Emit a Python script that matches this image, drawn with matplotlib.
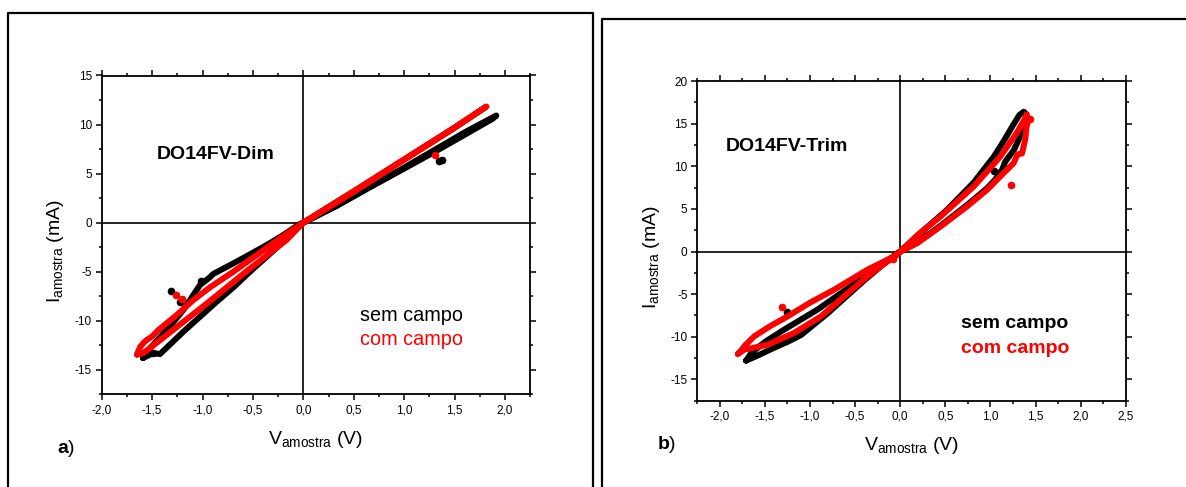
import matplotlib
matplotlib.use('Agg')
import matplotlib.pyplot as plt
from matplotlib.ticker import MultipleLocator, FuncFormatter
from matplotlib.lines import Line2D

plt.rcParams['font.family'] = ['Liberation Sans', 'DejaVu Sans']
plt.rcParams['mathtext.fontset'] = 'custom'
plt.rcParams['mathtext.rm'] = 'Liberation Sans'
plt.rcParams['mathtext.bf'] = 'Liberation Sans:bold'
plt.rcParams['mathtext.it'] = 'Liberation Sans:italic'

# ---- panel a : DO14FV-Dim ----
dim_sem_v = [-1.59, -1.55, -1.45, -1.355, -1.19, -1.025, -0.93, -0.893, -0.694, -0.529,
             -0.363, -0.198, -0.033, 0.0, 0.33, 0.66, 0.99, 1.3, 1.6, 1.8, 1.915, 1.88,
             1.6, 1.3, 0.99, 0.66, 0.33, 0.0, -0.066, -0.198, -0.363, -0.529, -0.694,
             -0.859, -1.025, -1.19, -1.422, -1.49, -1.59]
dim_sem_i = [-13.8, -13.16, -12.0, -10.95, -8.9, -6.36, -5.6, -5.23, -4.15, -3.23,
             -2.28, -1.26, -0.13, 0.0, 1.75, 3.65, 5.55, 7.4, 9.2, 10.3, 10.92, 10.6,
             8.95, 7.2, 5.45, 3.6, 1.7, 0.0, -0.57, -1.94, -3.47, -5.0, -6.6,
             -8.06, -9.59, -11.12, -13.4, -13.3, -13.8]
dim_com_v = [-1.65, -1.62, -1.58, -1.554, -1.50, -1.438, -1.256, -1.091, -0.926, -0.694,
             -0.462, -0.231, 0.0, 0.5, 1.0, 1.5, 1.817, 1.5, 1.0, 0.5, 0.0, -0.165,
             -0.363, -0.562, -0.76, -0.958, -1.157, -1.355, -1.587, -1.65]
dim_com_i = [-13.45, -12.7, -12.2, -11.97, -11.6, -10.95, -9.42, -7.89, -6.6, -5.0,
             -3.3, -1.6, 0.0, 3.2, 6.45, 9.7, 11.84, 9.65, 6.4, 3.15, 0.0, -1.75,
             -3.35, -4.95, -6.6, -8.25, -9.85, -11.45, -13.3, -13.45]
dim_sem_pts_v = [-1.313, -1.018, -1.223, -1.488, 1.373, 1.35]
dim_sem_pts_i = [-6.94, -5.98, -8.1, -13.33, 6.4, 6.3]
dim_com_pts_v = [-1.263, -1.206, 1.307]
dim_com_pts_i = [-7.35, -7.79, 6.9]

# ---- panel b : DO14FV-Trim ----
trim_sem_v = [-1.71, -1.6, -1.4, -1.25, -1.10, -0.95, -0.81, -0.6, -0.4, -0.2, 0.0,
              0.26, 0.52, 0.815, 0.925, 1.036, 1.15, 1.25, 1.32, 1.37, 1.40, 1.405,
              1.39, 1.33, 1.26, 1.165, 1.13, 1.05, 0.96, 0.74, 0.45, 0.19, 0.0,
              -0.25, -0.55, -0.92, -1.29, -1.5, -1.65, -1.71]
trim_sem_i = [-12.8, -12.3, -11.3, -10.6, -9.8, -8.5, -7.3, -5.3, -3.4, -1.6, 0.0,
              2.5, 4.9, 8.1, 9.6, 11.1, 13.0, 14.8, 16.0, 16.4, 16.1, 15.4,
              14.6, 13.5, 11.9, 10.55, 9.6, 8.4, 7.4, 5.45, 3.05, 1.05, 0.0,
              -1.9, -4.1, -6.83, -9.18, -10.6, -11.9, -12.8]
trim_com_v = [-1.80, -1.785, -1.72, -1.62, -1.45, -1.25, -1.0, -0.734, -0.365, -0.033, 0.0,
              0.2, 0.446, 0.814, 1.11, 1.29, 1.386, 1.40, 1.42, 1.40, 1.386, 1.38,
              1.35, 1.30, 1.257, 1.146, 0.962, 0.74, 0.446, 0.188, 0.0, -0.144,
              -0.365, -0.624, -0.88, -1.18, -1.47, -1.73, -1.80]
trim_com_i = [-12.0, -11.9, -11.0, -9.96, -8.8, -7.62, -6.0, -4.49, -2.14, -0.39, 0.0,
              2.0, 4.1, 7.62, 11.14, 13.88, 15.64, 16.1, 15.4, 14.6, 13.1, 12.9,
              11.5, 11.4, 10.36, 9.19, 7.23, 5.28, 2.93, 0.98, 0.0, -1.17,
              -2.93, -5.28, -7.62, -9.57, -10.94, -11.52, -12.0]
trim_sem_pts_v = [1.043, -1.26]
trim_sem_pts_i = [9.41, -7.1]
trim_com_pts_v = [1.232, -1.316, 1.434, -0.08]
trim_com_pts_i = [7.77, -6.52, 15.6, -0.9]

W, H = 1186, 487
fig = plt.figure(figsize=(W / 100, H / 100), dpi=100)


def fx(px):
    return px / W


def fy(py):
    return 1 - py / H


def comma(x, pos):
    if abs(x) < 1e-9:
        x = 0.0
    return ('%.1f' % x).replace('.', ',')


def integ(x, pos):
    if abs(x) < 1e-9:
        x = 0.0
    return '%d' % round(x)


def setup(ax, xlim, ylim):
    ax.set_xlim(*xlim)
    ax.set_ylim(*ylim)
    ax.xaxis.set_major_locator(MultipleLocator(0.5))
    ax.xaxis.set_minor_locator(MultipleLocator(0.25))
    ax.yaxis.set_major_locator(MultipleLocator(5))
    ax.yaxis.set_minor_locator(MultipleLocator(2.5))
    ax.xaxis.set_major_formatter(FuncFormatter(comma))
    ax.yaxis.set_major_formatter(FuncFormatter(integ))
    ax.tick_params(which='both', direction='out', top=True, right=True,
                   labeltop=False, labelright=False, width=1.1, labelsize=8.5)
    ax.tick_params(which='major', length=4.5, pad=2.5)
    ax.tick_params(which='minor', length=2.5)
    for s in ax.spines.values():
        s.set_linewidth(1.3)
    ax.axhline(0, color='k', lw=1.2, zorder=1)
    ax.axvline(0, color='k', lw=1.2, zorder=1)


def loop(ax, v, i, col):
    ax.plot(v, i, color=col, lw=4.3, solid_capstyle='round',
            solid_joinstyle='round', zorder=3)


def labels(ax):
    ax.text(0.5, -0.155, r'V$_{\mathregular{amostra}}$ (V)', transform=ax.transAxes,
            ha='center', va='baseline', fontsize=14)
    ax.text(-0.097, 0.45, r'I$_{\mathregular{amostra}}$ (mA)', transform=ax.transAxes,
            ha='center', va='baseline', rotation=90, rotation_mode='anchor', fontsize=14)


# panel a
ax1 = fig.add_axes([fx(101.7), fy(394.3), fx(530.1) - fx(101.7), fy(75.5) - fy(394.3)])
setup(ax1, (-2.0, 2.25), (-17.5, 15))
loop(ax1, dim_sem_v, dim_sem_i, 'black')
ax1.plot(dim_sem_pts_v, dim_sem_pts_i, 'o', color='black', ms=4.5, zorder=3)
loop(ax1, dim_com_v, dim_com_i, 'red')
ax1.plot(dim_com_pts_v, dim_com_pts_i, 'o', color='red', ms=4.5, zorder=4)
ax1.text(0.129, 0.737, 'DO14FV-Dim', transform=ax1.transAxes, fontsize=14,
         fontweight='bold', va='baseline')
ax1.text(0.604, 0.231, 'sem campo', transform=ax1.transAxes, fontsize=14.3,
         color='black', va='baseline')
ax1.text(0.604, 0.155, 'com campo', transform=ax1.transAxes, fontsize=14.3,
         color='red', va='baseline')
labels(ax1)
fig.text(fx(57.4), fy(452.7), r'$\mathbf{a}$)', fontsize=14, va='baseline')

# panel b
ax2 = fig.add_axes([fx(697.3), fy(400.7), fx(1125.7) - fx(697.3), fy(81) - fy(400.7)])
setup(ax2, (-2.25, 2.5), (-17.5, 20))
loop(ax2, trim_sem_v, trim_sem_i, 'black')
ax2.plot(trim_sem_pts_v, trim_sem_pts_i, 'o', color='black', ms=4.5, zorder=3)
loop(ax2, trim_com_v, trim_com_i, 'red')
ax2.plot(trim_com_pts_v, trim_com_pts_i, 'o', color='red', ms=4.5, zorder=4)
ax2.text(0.067, 0.782, 'DO14FV-Trim', transform=ax2.transAxes, fontsize=14,
         fontweight='bold', va='baseline')
ax2.text(0.615, 0.2265, 'sem campo', transform=ax2.transAxes, fontsize=14,
         fontweight='bold', color='black', va='baseline')
ax2.text(0.615, 0.148, 'com campo', transform=ax2.transAxes, fontsize=14,
         fontweight='bold', color='red', va='baseline')
labels(ax2)
fig.text(fx(656.7), fy(449.3), r'$\mathbf{b}$)', fontsize=14, va='baseline')

# outer frames
fig.add_artist(Line2D([fx(7.5), fx(7.5), fx(593), fx(593)], [-0.05, fy(13), fy(13), -0.05],
                      transform=fig.transFigure, color='k', lw=1.6))
fig.add_artist(Line2D([fx(601.5), fx(601.5), 1.05], [-0.05, fy(19), fy(19)],
                      transform=fig.transFigure, color='k', lw=1.6))

fig.savefig('out.png', dpi=100)
